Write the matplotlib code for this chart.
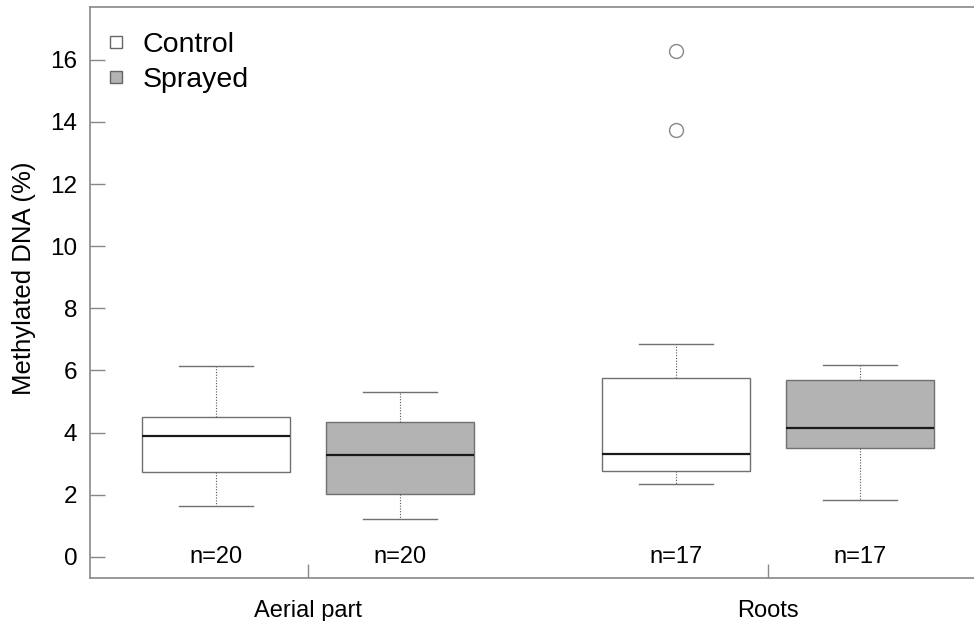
import matplotlib.pyplot as plt
from matplotlib.lines import Line2D

plt.rcParams['font.family'] = ['Liberation Sans', 'DejaVu Sans']

# box stats
labels = ["Control", "Sprayed", "Control", "Sprayed"]
positions = [1, 2, 3.5, 4.5]
whislo = [1.64, 1.22, 2.35, 1.84]
q1 = [2.74, 2.03, 2.77, 3.51]
med = [3.90, 3.28, 3.32, 4.15]
q3 = [4.51, 4.35, 5.76, 5.70]
whishi = [6.15, 5.31, 6.86, 6.18]
fliers = [[], [], [16.29, 13.75], []]
n_counts = [20, 20, 17, 17]
fills = ["white", "#b3b3b3", "white", "#b3b3b3"]

groups = ["Aerial part", "Roots"]
group_pos = [1.5, 4.0]

stats = []
for i in range(4):
    stats.append(dict(label=labels[i], whislo=whislo[i], q1=q1[i], med=med[i],
                      q3=q3[i], whishi=whishi[i], fliers=fliers[i]))

fig = plt.figure(figsize=(9.74, 6.21), dpi=100)
ax = fig.add_axes([0.0924, 0.0692, 0.9076, 0.9195])

edge = "#707070"
bp = ax.bxp(stats, positions=positions, widths=0.8, patch_artist=True,
            boxprops=dict(edgecolor=edge, linewidth=1.0),
            medianprops=dict(color="#1a1a1a", linewidth=1.6),
            whiskerprops=dict(color="#555555", linestyle=(0, (1, 1.5)), linewidth=0.8),
            capprops=dict(color=edge, linewidth=1.0),
            capwidths=0.4,
            flierprops=dict(marker="o", markerfacecolor="white", markeredgecolor="#888888",
                            markersize=10, markeredgewidth=1.0))
for patch, c in zip(bp["boxes"], fills):
    patch.set_facecolor(c)

for p, n in zip(positions, n_counts):
    ax.text(p, 0, "n=%d" % n, ha="center", va="center", fontsize=17)

ax.set_xlim(0.315, 5.12)
ax.set_ylim(-0.68, 17.7)
ax.set_yticks(range(0, 17, 2))
ax.set_xticks(group_pos)
ax.set_xticklabels(groups)
ax.tick_params(axis="y", direction="in", length=11, width=1, color="#888888",
               labelsize=17.5, pad=9)
ax.tick_params(axis="x", direction="in", length=10, width=1, color="#888888",
               labelsize=17, pad=16)
ax.set_ylabel("Methylated DNA (%)", fontsize=18.5)
ax.yaxis.set_label_coords(-0.061, 0.525)

for s in ["left", "bottom", "top"]:
    ax.spines[s].set_color("#888888")
    ax.spines[s].set_linewidth(1.2)
ax.spines["right"].set_visible(False)

handles = [Line2D([], [], marker="s", linestyle="none", markersize=8,
                  markerfacecolor=fills[0], markeredgecolor="#666666"),
           Line2D([], [], marker="s", linestyle="none", markersize=8,
                  markerfacecolor=fills[1], markeredgecolor="#666666")]
ax.legend(handles, ["Control", "Sprayed"], loc="upper left", frameon=False,
          fontsize=20.5, handletextpad=0.45, labelspacing=0.3, handlelength=1.0,
          bbox_to_anchor=(0.0, 0.976), borderaxespad=0.0)

fig.savefig("out.png", dpi=100)
